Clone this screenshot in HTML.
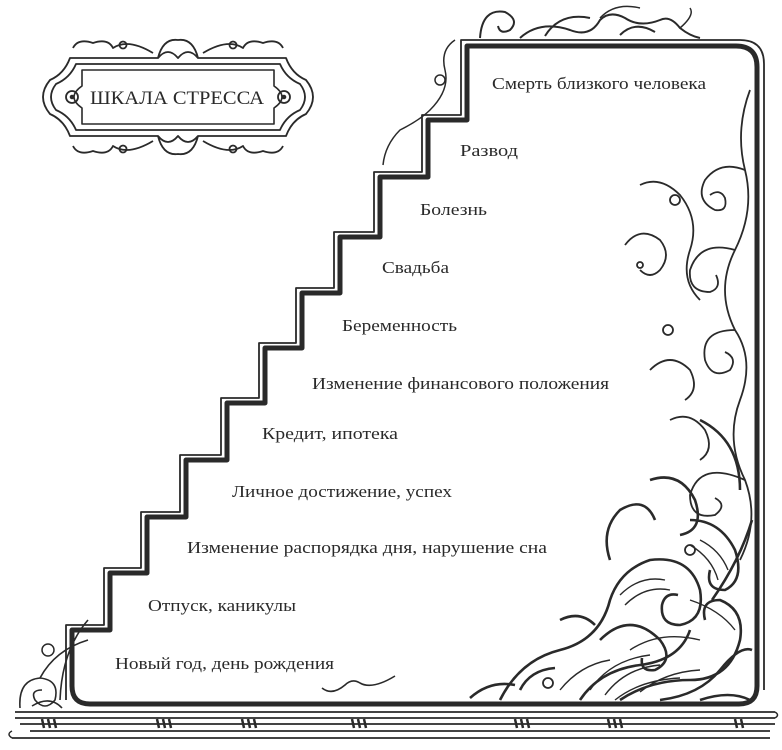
<!DOCTYPE html>
<html><head><meta charset="utf-8"><style>
html,body{margin:0;padding:0;background:#fff;width:782px;height:750px;overflow:hidden}
svg{display:block}
text{font-family:"Liberation Serif",serif;fill:#2a2a2a}
</style></head><body>
<svg width="782" height="750" viewBox="0 0 782 750" xmlns="http://www.w3.org/2000/svg">
<g fill="none" stroke="#2a2a2a" stroke-linejoin="round">
<!-- thin outer stair line -->
<path stroke-width="1.8" d="M66,700 L66,625 L104,625 L104,568 L141,568 L141,512 L180,512 L180,455 L221,455 L221,398 L259,398 L259,343 L296,343 L296,288 L334,288 L334,232 L374,232 L374,172 L422,172 L422,115 L461,115 L461,40 L740,40 Q764,40 764,64 L764,690"/>
<!-- thick stair line -->
<path stroke-width="5" d="M72,686 L72,630 L110,630 L110,573 L147,573 L147,517 L186,517 L186,460 L227,460 L227,403 L265,403 L265,348 L302,348 L302,293 L340,293 L340,237 L380,237 L380,177 L428,177 L428,120 L467,120 L467,46 L736,46 Q757,46 757,67 L757,686 Q757,704 739,704 L90,704 Q72,704 72,686 Z"/>
<!-- base -->
<path stroke-width="1.8" d="M15,712 L775,712 M15,718 L775,718 M20,724 L775,724 M30,731 L770,731 M12,738 L770,738"/>
<path stroke-width="1.5" d="M12,738 Q6,734 12,731 M775,712 Q780,715 775,718"/>
<g stroke-width="2.5">
<path d="M42,719 L44,728 M48,719 L50,728 M54,719 L56,728 M157,719 L159,728 M163,719 L165,728 M169,719 L171,728 M242,719 L244,728 M248,719 L250,728 M254,719 L256,728 M352,719 L354,728 M358,719 L360,728 M364,719 L366,728 M515,719 L517,728 M521,719 L523,728 M527,719 L529,728 M608,719 L610,728 M614,719 L616,728 M620,719 L622,728 M735,719 L737,728 M741,719 L743,728"/>
</g>
<!-- left bottom swirl -->
<path stroke-width="1.6" d="M20,708 Q18,680 40,678 Q60,680 55,700 Q45,712 35,700 Q30,690 42,690 M40,678 Q55,650 88,640 M32,706 Q50,695 62,708 M60,700 Q62,650 88,620"/>
<circle cx="48" cy="650" r="6" stroke-width="1.5"/>
<path stroke-width="1.6" d="M322,688 Q332,696 345,685 Q352,678 360,683 Q372,690 395,676"/>
<!-- left swirl along top stair -->
<path stroke-width="1.5" d="M455,40 Q440,50 445,70 Q450,90 430,110 Q420,120 400,130 Q385,145 383,165"/>
<circle cx="440" cy="80" r="5" stroke-width="1.5"/>
<!-- top ornament -->
<path stroke-width="2" d="M480,38 Q482,8 505,12 Q520,20 510,30 Q500,35 498,26 M520,38 Q540,20 570,30 Q590,38 600,20 Q610,10 625,18 Q640,28 660,20 Q670,15 680,28 Q690,36 700,38 M545,36 Q560,12 590,18 M620,35 Q635,20 655,32"/>
<path stroke-width="1.5" d="M600,18 Q615,2 640,8 M680,28 Q695,15 690,8"/>
<!-- right ornament vines -->
<g stroke-width="1.8">
<path d="M750,90 Q735,130 745,170 Q755,210 735,250 Q715,290 735,330 Q755,360 740,400 Q725,440 745,480 Q760,520 740,560"/>
<path d="M745,170 Q720,160 705,180 Q695,200 715,210 Q728,212 725,198 Q720,188 710,195"/>
<path d="M735,250 Q700,240 690,270 Q688,292 710,292 Q722,288 716,275"/>
<path d="M735,330 Q700,330 705,360 Q712,380 730,370 Q738,358 725,352"/>
<path d="M745,480 Q700,460 690,495 Q690,520 715,515 Q728,505 715,498"/>
<path d="M640,185 Q660,175 680,195 Q700,220 690,250 Q680,280 700,300"/>
<path d="M625,245 Q640,225 660,240 Q672,255 660,270 Q650,280 640,270"/>
<path d="M650,370 Q670,350 690,370 Q700,390 685,400"/>
<path d="M670,420 Q690,410 705,430 Q715,450 700,460"/>
<circle cx="675" cy="200" r="5"/><circle cx="668" cy="330" r="5"/>
<circle cx="640" cy="265" r="3"/><circle cx="690" cy="550" r="5"/>
<circle cx="548" cy="683" r="5"/>
</g>
<!-- dense lower-right ornament -->
<g stroke-width="2.6">
<path d="M500,700 Q520,660 560,650 Q600,640 610,600 Q620,570 650,560 Q690,555 700,590 Q705,620 680,625 Q660,625 662,605 Q665,592 678,595"/>
<path d="M580,700 Q600,670 640,665 Q680,660 690,630 M620,700 Q650,680 690,680 Q730,680 740,640 Q745,610 720,600 Q700,600 705,620"/>
<path d="M660,700 Q700,695 720,670 Q740,645 752,650 M600,640 Q630,610 660,640 Q675,660 655,670 Q640,672 642,658"/>
<path d="M690,520 Q720,520 735,550 Q745,580 725,590 Q705,590 710,570 M650,480 Q680,470 695,500 Q705,530 680,535"/>
<path d="M700,420 Q740,440 740,490 M610,560 Q600,530 620,510 Q645,495 655,520"/>
<path d="M520,690 Q530,670 555,668 M470,698 Q490,680 515,685 M560,620 Q580,610 595,625"/>
<path d="M712,600 Q740,560 752,520 M700,700 Q730,690 750,700"/>
</g>
<g stroke-width="1.4">
<path d="M590,690 Q610,660 650,655 M605,695 Q625,668 660,665 M640,692 Q665,672 700,670 M620,595 Q640,575 665,580 M625,605 Q645,585 670,590 M700,540 Q720,550 728,570 M690,545 Q712,558 718,580 M615,700 Q640,680 680,678 M560,690 Q580,665 610,660 M630,650 Q660,630 700,640 M690,600 Q720,610 735,630"/>
</g>
<!-- title plaque -->
<g stroke-width="1.8">
<path d="M70,58 L158,58 Q168,46 178,58 Q188,46 198,58 L286,58 Q292,74 306,80 Q320,97 306,114 Q292,120 286,136 L198,136 Q188,148 178,136 Q168,148 158,136 L70,136 Q64,120 50,114 Q36,97 50,80 Q64,74 70,58 Z"/>
<path d="M76,64 L280,64 Q286,78 300,84 Q310,97 300,110 Q286,116 280,130 L76,130 Q70,116 56,110 Q46,97 56,84 Q70,78 76,64 Z"/>
<path stroke-width="1.6" d="M82,70 L274,70 L274,86 Q290,97 274,108 L274,124 L82,124 L82,108 Q66,97 82,86 Z"/>
<circle cx="72" cy="97" r="6"/><circle cx="284" cy="97" r="6"/>
<path d="M158,58 Q163,38 178,40 Q193,38 198,58 M158,136 Q163,156 178,154 Q193,156 198,136"/>
<path d="M153,53 Q128,38 113,48 Q108,38 93,43 Q78,38 73,48 M203,53 Q228,38 243,48 Q248,38 263,43 Q278,38 283,48 M153,141 Q128,156 113,146 Q108,156 93,151 Q78,156 73,146 M203,141 Q228,156 243,146 Q248,156 263,151 Q278,156 283,146"/>
<circle cx="123" cy="45" r="3.5"/><circle cx="233" cy="45" r="3.5"/><circle cx="123" cy="149" r="3.5"/><circle cx="233" cy="149" r="3.5"/>
</g>
<circle cx="72" cy="97" r="1.8" fill="#2a2a2a"/><circle cx="284" cy="97" r="1.8" fill="#2a2a2a"/>
</g>
<text x="90" y="104" font-size="19" textLength="174" lengthAdjust="spacingAndGlyphs">ШКАЛА СТРЕССА</text>
<g font-size="17">
<text x="492" y="89" textLength="214" lengthAdjust="spacingAndGlyphs">Смерть близкого человека</text>
<text x="460" y="156" textLength="58" lengthAdjust="spacingAndGlyphs">Развод</text>
<text x="420" y="215" textLength="67" lengthAdjust="spacingAndGlyphs">Болезнь</text>
<text x="382" y="273" textLength="67" lengthAdjust="spacingAndGlyphs">Свадьба</text>
<text x="342" y="331" textLength="115" lengthAdjust="spacingAndGlyphs">Беременность</text>
<text x="312" y="389" textLength="297" lengthAdjust="spacingAndGlyphs">Изменение финансового положения</text>
<text x="262" y="439" textLength="136" lengthAdjust="spacingAndGlyphs">Кредит, ипотека</text>
<text x="232" y="497" textLength="220" lengthAdjust="spacingAndGlyphs">Личное достижение, успех</text>
<text x="187" y="553" textLength="360" lengthAdjust="spacingAndGlyphs">Изменение распорядка дня, нарушение сна</text>
<text x="148" y="611" textLength="148" lengthAdjust="spacingAndGlyphs">Отпуск, каникулы</text>
<text x="115" y="669" textLength="219" lengthAdjust="spacingAndGlyphs">Новый год, день рождения</text>
</g>
</svg>
</body></html>
